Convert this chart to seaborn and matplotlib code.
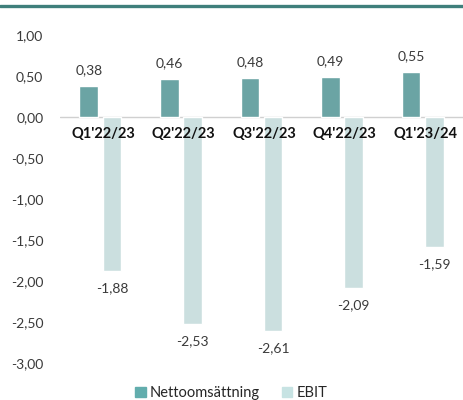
import pandas as pd
import seaborn as sns
import matplotlib.pyplot as plt
from matplotlib.lines import Line2D

quarters = ["Q1'22/23", "Q2'22/23", "Q3'22/23", "Q4'22/23", "Q1'23/24"]
nettoomsattning = [0.38, 0.46, 0.48, 0.49, 0.55]
ebit = [-1.88, -2.53, -2.61, -2.09, -1.59]
series = ["Nettoomsättning", "EBIT"]
colors = ["#62adad", "#c7e3e3"]

df = pd.DataFrame({
    "quarter": quarters * 2,
    "series": [series[0]] * len(quarters) + [series[1]] * len(quarters),
    "value": nettoomsattning + ebit,
})

sns.set_style("white")
plt.rcParams["font.family"] = ["Lato", "DejaVu Sans"]

fig = plt.figure(figsize=(4.63, 4.0), dpi=100)
ax = fig.add_axes([60 / 463, 1 - 363 / 400, 403 / 463, 328 / 400])

sns.barplot(data=df, x="quarter", y="value", hue="series", palette=colors,
            width=0.575, gap=0.2, ax=ax, legend=False)

ax.set_xlim(-0.5, 4.5)
ax.set_ylim(-3.0, 1.0)
ax.set_yticks([1.0, 0.5, 0.0, -0.5, -1.0, -1.5, -2.0, -2.5, -3.0])
ax.set_yticklabels([f"{v:.2f}".replace(".", ",") for v in ax.get_yticks()],
                   fontsize=10, color="#3a3a3a")
ax.tick_params(axis="y", length=0, pad=12)
ax.set_xticks([])
ax.set_xlabel("")
ax.set_ylabel("")
for s in ax.spines.values():
    s.set_visible(False)
ax.axhline(0, color="#d0d0d0", lw=1, zorder=0)

# category labels just below zero line
for i, q in enumerate(quarters):
    ax.annotate(q, (i, 0), xytext=(2, -7), textcoords="offset points",
                ha="center", va="top", fontsize=10.5, fontweight="bold", color="#111111")

# value labels
for c in ax.containers[0]:
    v = c.get_height()
    ax.annotate(f"{v:.2f}".replace(".", ","), (c.get_x() + c.get_width() / 2, v),
                xytext=(0, 7), textcoords="offset points", ha="center", va="bottom",
                fontsize=10, color="#3a3a3a")
for c in ax.containers[1]:
    v = c.get_height()
    ax.annotate(f"{v:.2f}".replace(".", ","), (c.get_x() + c.get_width() / 2, v),
                xytext=(0, -8), textcoords="offset points", ha="center", va="top",
                fontsize=10, color="#3a3a3a")

handles = [plt.Rectangle((0, 0), 1, 1, color=col) for col in colors]
fig.legend(handles, series, loc="center", bbox_to_anchor=(0.5, 1 - 393 / 400),
           ncol=2, frameon=False, fontsize=10.5, handlelength=0.7, handleheight=0.7,
           handletextpad=0.3, columnspacing=1.5)

# header rule
fig.add_artist(Line2D([0, 1], [1 - 5.5 / 400] * 2, color="#3f7f7b", lw=2.4))

fig.savefig("out.png", dpi=100)
